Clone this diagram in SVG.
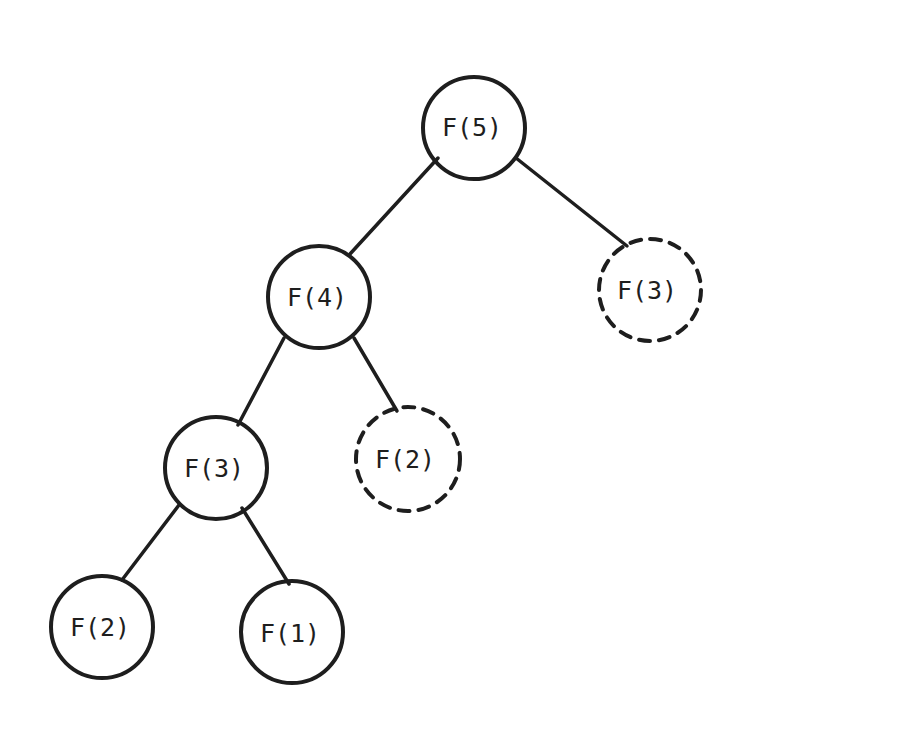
<svg xmlns="http://www.w3.org/2000/svg" width="911" height="738" viewBox="0 0 911 738">
<style>
.n{fill:none;stroke:#1e1e1e;stroke-width:4}
.d{stroke-dasharray:11 9;stroke-linecap:round}
.e{stroke:#1e1e1e;stroke-width:3.5;stroke-linecap:round}
text{font-family:"DejaVu Sans Mono","Liberation Mono",monospace;font-size:25px;fill:#1e1e1e;text-anchor:middle}
</style>
<rect width="911" height="738" fill="#fff"/>
<g id="edges">
<line class="e" x1="438" y1="158" x2="350" y2="254"/>
<line class="e" x1="516" y1="158" x2="627" y2="246"/>
<line class="e" x1="284" y1="338" x2="238" y2="425"/>
<line class="e" x1="354" y1="338" x2="397" y2="411"/>
<line class="e" x1="179" y1="505" x2="122" y2="580"/>
<line class="e" x1="242" y1="508" x2="289" y2="584"/>
</g>
<g id="f5"><circle class="n" cx="474" cy="128" r="51"/><text x="472" y="136">F(5)</text></g>
<g id="f4"><circle class="n" cx="319" cy="297" r="51"/><text x="317" y="306">F(4)</text></g>
<g id="f3r"><circle class="n d" cx="650" cy="290" r="51"/><text x="647" y="299">F(3)</text></g>
<g id="f3l"><circle class="n" cx="216" cy="468" r="51"/><text x="214" y="477">F(3)</text></g>
<g id="f2r"><circle class="n d" cx="408" cy="459" r="52"/><text x="405" y="468">F(2)</text></g>
<g id="f2l"><circle class="n" cx="102" cy="627" r="51"/><text x="100" y="636">F(2)</text></g>
<g id="f1"><circle class="n" cx="292" cy="632" r="51"/><text x="290" y="642">F(1)</text></g>
</svg>
